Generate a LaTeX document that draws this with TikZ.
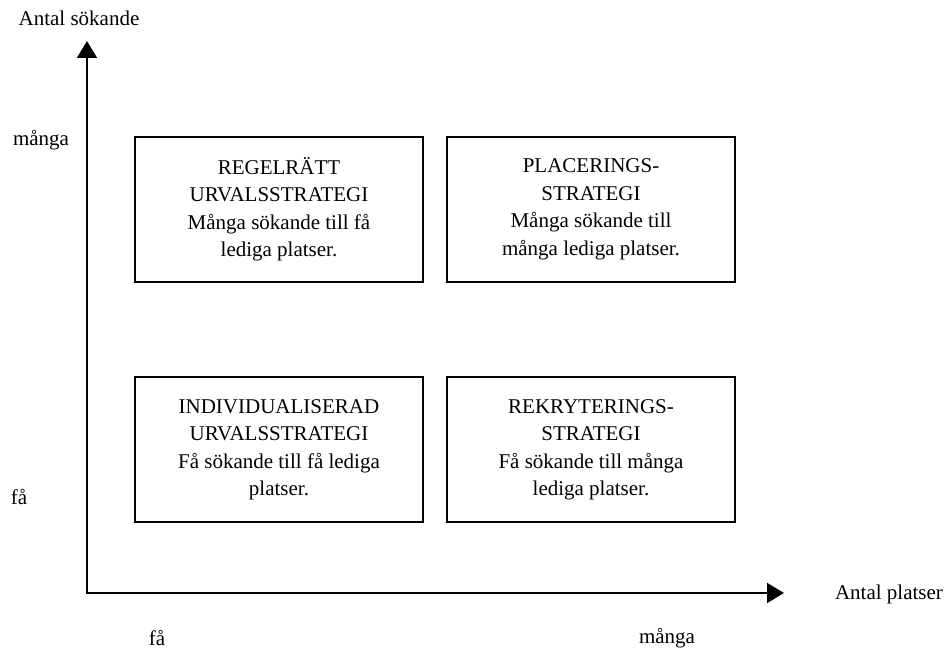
\documentclass[tikz,border=0pt]{standalone}
\usepackage{fontspec}
\setmainfont{Liberation Serif}
\usetikzlibrary{arrows.meta}
\begin{document}
\begin{tikzpicture}[x=0.5pt, y=-0.5pt, font=\fontsize{10.5}{13.75}\selectfont, >={Triangle[length=8.5pt,width=10pt]},
	strategi/.style={draw, line width=1pt, minimum width=144pt, minimum height=72.5pt, align=center, inner sep=0pt}]
				\useasboundingbox (0,0) rectangle (952,656);
				\coordinate (O) at (87,593);
				\coordinate (Y) at (87,41);
				\coordinate (X) at (784,593);
				\draw[<->, line width=0.8pt] (Y)--(O)--(X);
				\node (antalsok) at (79,18) {Antal sökande};
				\node (antalpl) at (889,594) {Antal platser};
				\foreach \p/\t/\n in {{(41,140)}/många/ymanga,{(19,497)}/få/yfa,{(157,638)}/få/xfa,{(667,638)}/många/xmanga} \node (\n) at \p {\t};
				\node[strategi] (regel) at (279,209.5) {REGELRÄTT\\URVALSSTRATEGI\\Många sökande till få\\lediga platser.};
				\node[strategi] (plac) at (591,209.5) {PLACERINGS-\\STRATEGI\\Många sökande till\\många lediga platser.};
				\node[strategi] (indiv) at (279,450) {INDIVIDUALISERAD\\URVALSSTRATEGI\\Få sökande till få lediga\\platser.};
				\node[strategi] (rekr) at (591,450) {REKRYTERINGS-\\STRATEGI\\Få sökande till många\\lediga platser.};
			\end{tikzpicture}
\end{document}
